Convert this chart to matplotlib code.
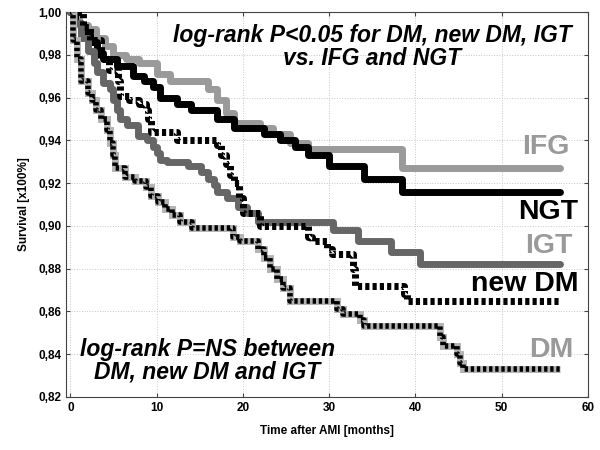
"""Kaplan-Meier style survival curves after AMI by glucose status"""
import matplotlib
matplotlib.use("Agg")
import matplotlib.pyplot as plt
from matplotlib.ticker import FuncFormatter, MultipleLocator

plt.rcParams['font.family'] = ['Liberation Sans', 'DejaVu Sans']

END_TIME = 56.8

# step curves: event times [months] and survival after each step
ifg_t = [0, 0.5, 1.0, 2.0, 3.0, 4.0, 5.0, 6.5, 8.0, 10.0, 11.5, 16.0, 17.0, 18.0,
         19.0, 22.0, 23.5, 25.5, 27.5, 38.5]
ifg_s = [1.0, 0.997, 0.994, 0.992, 0.988, 0.984, 0.980, 0.978, 0.976, 0.971, 0.968,
         0.964, 0.959, 0.953, 0.948, 0.946, 0.943, 0.939, 0.936, 0.927]

ngt_t = [0, 0.5, 1.2, 2.3, 3.1, 3.8, 5.4, 7.3, 8.5, 9.6, 10.4, 12.4, 14.0, 17.0,
         19.0, 22.5, 24.3, 26.0, 27.5, 30.0, 34.0, 38.5]
ngt_s = [1.0, 0.995, 0.990, 0.986, 0.981, 0.978, 0.975, 0.970, 0.968, 0.965, 0.960,
         0.957, 0.954, 0.950, 0.946, 0.943, 0.940, 0.937, 0.933, 0.928, 0.922, 0.916]

igt_t = [0, 0.4, 1.2, 2.0, 2.7, 3.1, 3.8, 4.6, 5.0, 5.4, 5.8, 6.6, 7.8, 8.9, 9.6,
         10.1, 10.4, 11.2, 13.6, 15.1, 15.9, 16.6, 17.0, 18.2, 19.4, 20.5, 21.7,
         30.4, 33.3, 37.2, 40.5]
igt_s = [1.0, 0.995, 0.988, 0.982, 0.976, 0.972, 0.967, 0.964, 0.959, 0.954, 0.950,
         0.947, 0.942, 0.940, 0.937, 0.934, 0.931, 0.930, 0.928, 0.925, 0.922, 0.919,
         0.916, 0.913, 0.909, 0.906, 0.902, 0.898, 0.893, 0.888, 0.882]

newdm_t = [0, 1.5, 2.3, 3.5, 4.5, 5.5, 5.8, 6.8, 8.0, 8.8, 9.0, 9.3, 12.4, 17.0,
           17.5, 18.0, 18.5, 19.0, 19.5, 20.0, 22.0, 27.5, 28.0, 29.8, 30.3, 32.8,
           33.0, 38.7, 39.0]
newdm_s = [1.0, 0.993, 0.987, 0.978, 0.973, 0.968, 0.961, 0.959, 0.957, 0.954, 0.950,
           0.944, 0.940, 0.938, 0.933, 0.929, 0.924, 0.920, 0.913, 0.906, 0.900, 0.895,
           0.893, 0.889, 0.887, 0.880, 0.872, 0.868, 0.865]

dm_t = [0, 0.35, 0.8, 1.2, 2.0, 2.5, 3.0, 3.5, 4.2, 4.6, 5.0, 5.2, 6.3, 7.5, 8.8,
        9.4, 10.2, 11.0, 11.8, 12.7, 14.1, 18.9, 19.7, 21.7, 22.4, 23.2, 24.0, 24.7,
        25.5, 30.9, 31.6, 33.6, 34.0, 42.9, 43.2, 44.8, 45.2, 45.5]
dm_s = [1.0, 0.987, 0.978, 0.968, 0.962, 0.959, 0.954, 0.950, 0.945, 0.939, 0.933,
        0.927, 0.923, 0.921, 0.918, 0.914, 0.911, 0.908, 0.905, 0.902, 0.899, 0.895,
        0.893, 0.889, 0.885, 0.880, 0.875, 0.871, 0.865, 0.861, 0.859, 0.856, 0.853,
        0.848, 0.844, 0.840, 0.836, 0.833]


def extend(t, s):
    # carry the last value out to the end of follow-up
    return list(t) + [END_TIME], list(s) + [s[-1]]


fig = plt.figure(figsize=(6, 4.5), dpi=100)
ax = fig.add_axes([0.11, 0.118, 0.87, 0.855])

lw = 5
x, y = extend(ifg_t, ifg_s)
ax.step(x, y, where='post', color='#9a9a9a', lw=lw, solid_capstyle='round',
        solid_joinstyle='round', zorder=2)
x, y = extend(ngt_t, ngt_s)
ax.step(x, y, where='post', color='black', lw=lw, solid_capstyle='round',
        solid_joinstyle='round', zorder=3)
x, y = extend(igt_t, igt_s)
ax.step(x, y, where='post', color='#666666', lw=lw, solid_capstyle='round',
        solid_joinstyle='round', zorder=4)
x, y = extend(newdm_t, newdm_s)
ax.step(x, y, where='post', color='black', lw=lw, dashes=(0.6, 0.45),
        dash_capstyle='butt', zorder=5)
x, y = extend(dm_t, dm_s)
ax.step(x, y, where='post', color='#b4b4b4', lw=lw, solid_capstyle='butt',
        solid_joinstyle='miter', zorder=6)
ax.step(x, y, where='post', color='black', lw=lw - 1, dashes=(0.6, 0.5),
        dash_capstyle='butt', zorder=7)

ax.set_xlim(-0.5, 60)
ax.set_ylim(0.82, 1.0)
ax.xaxis.set_major_locator(MultipleLocator(10))
ax.yaxis.set_major_locator(MultipleLocator(0.02))
ax.yaxis.set_major_formatter(FuncFormatter(lambda v, p: f"{v:.2f}".replace('.', ',')))
ax.grid(True, linestyle=':', color='#c8c8c8', lw=0.7)
ax.tick_params(direction='in', length=3, top=True, right=True, labelsize=8.5,
               color='#444444')
for lab in ax.get_xticklabels() + ax.get_yticklabels():
    lab.set_fontweight('bold')
for sp in ax.spines.values():
    sp.set_color('#444444')
    sp.set_linewidth(0.8)

ax.set_xlabel("Time after AMI [months]", fontsize=8.5, fontweight='bold', labelpad=8)
ax.set_ylabel("Survival [x100%]", fontsize=8.5, fontweight='bold', labelpad=6)

# group labels at the right end of each curve
lab_kw = dict(fontsize=20.5, fontweight='bold', ha='right', va='center')
ax.text(57.9, 0.9370, "IFG", color='#9a9a9a', **lab_kw)
ax.text(58.9, 0.9065, "NGT", color='black', **lab_kw)
ax.text(58.2, 0.8907, "IGT", color='#9a9a9a', **lab_kw)
ax.text(58.9, 0.8730, "new DM", color='black', **lab_kw)
ax.text(58.3, 0.8420, "DM", color='#9a9a9a', **lab_kw)

note_kw = dict(fontsize=16.5, fontweight='bold', style='italic', ha='center',
               va='center', linespacing=1.0)
ax.text(35.0, 0.9838, "log-rank P<0.05 for DM, new DM, IGT\nvs. IFG and NGT", **note_kw)
ax.text(15.9, 0.8368, "log-rank P=NS between\nDM, new DM and IGT", **note_kw)

fig.savefig("out.png", dpi=100)
